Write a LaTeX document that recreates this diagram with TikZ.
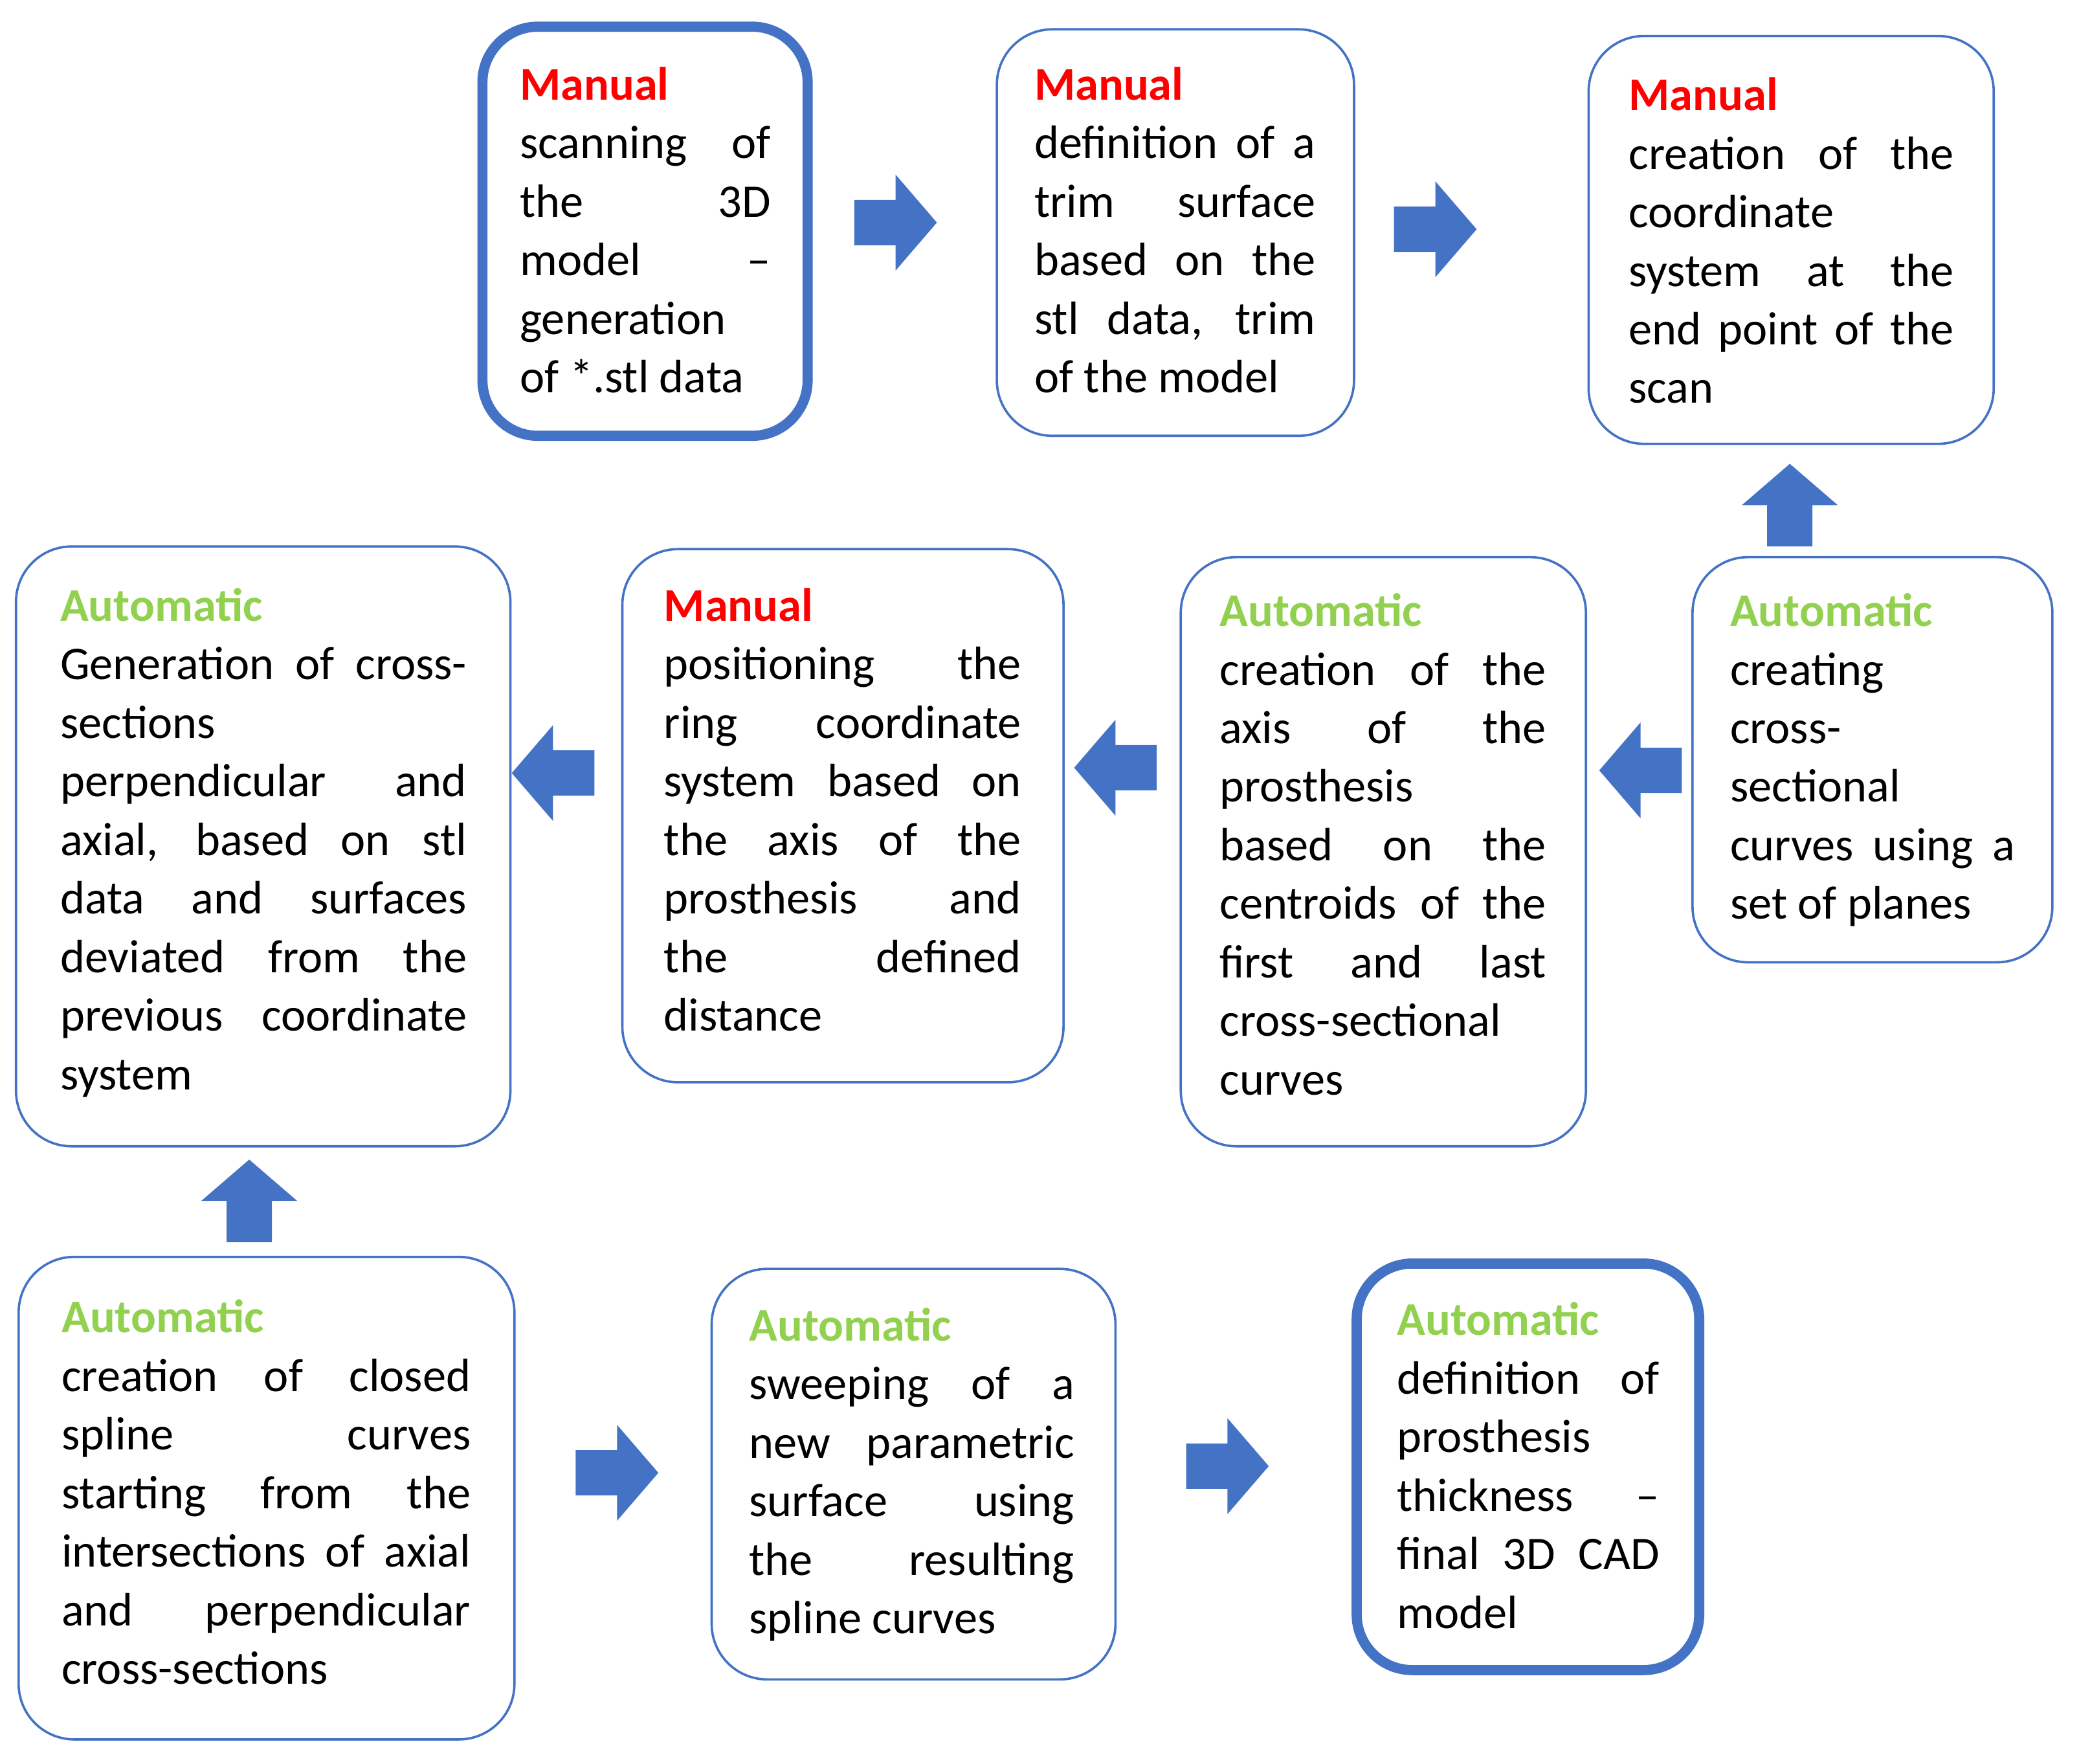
\documentclass[tikz,border=0pt]{standalone}
\usepackage{fontspec}
\setmainfont{Carlito}
\usetikzlibrary{calc}
\definecolor{bl}{HTML}{4472C4}
\definecolor{mred}{HTML}{FF0000}
\definecolor{agreen}{HTML}{92D050}
\newcommand\man{{\color{mred}\bfseries Manual}\newline}
\newcommand\aut{{\color{agreen}\bfseries Automatic}\newline}
\newcommand\blkarrow[2]{\fill[bl,shift={#1},rotate=#2] (-31,-17) -- (0,-17) -- (0,-36) -- (31,0) -- (0,36) -- (0,17) -- (-31,17) -- cycle;}
\tikzset{
 box/.style={draw=bl,line width=1.5pt,rounded corners=1.25cm,inner sep=0},
 thickbox/.style={box,line width=6.5pt},
 txt/.style={anchor=north west,inner sep=0,align=justify,font=\fontsize{30}{37.5}\selectfont}
}
\begin{document}
\begin{tikzpicture}[x=0.03cm,y=-0.03cm]
\useasboundingbox (0,0) rectangle (1560,1323);
% boxes
\newcommand\bx[6]{\node[#6,minimum width=#4*0.03cm,minimum height=#5*0.03cm] (#1) at (#2,#3) {};}
\bx{b1}{484}{173.5}{244}{307}{thickbox}
\bx{b2}{882}{174.5}{268}{305}{box}
\bx{b3}{1344}{180}{304}{306}{box}
\bx{b4}{1405}{570}{270}{304}{box}
\bx{b5}{1038}{639}{304}{442}{box}
\bx{b6}{632.5}{612}{331}{400}{box}
\bx{b7}{197.5}{635}{371}{450}{box}
\bx{b8}{200}{1124}{372}{362}{box}
\bx{b9}{685.5}{1106}{303}{308}{box}
\bx{b10}{1146.5}{1100.5}{257}{305}{thickbox}
% texts
\node[txt,text width=188*0.03cm] (t1) at (390,50) {\man scanning of\linebreak the 3D\linebreak model –\linebreak generation\newline of *.stl data};
\node[txt,text width=211*0.03cm] (t2) at (776,50) {\man definition of a\linebreak trim surface\linebreak based on the\linebreak stl data, trim\linebreak of the model};
\node[txt,text width=244*0.03cm] (t3) at (1222,58) {\man creation of the\linebreak coordinate\newline system at the\linebreak end point of the\linebreak scan};
\node[txt,text width=214*0.03cm] (t4) at (1298,445) {\aut \ creating\newline cross-\newline sectional\newline curves using a\linebreak set of planes};
\node[txt,text width=245*0.03cm] (t5) at (915,445) {\aut creation of the\linebreak axis of the\linebreak prosthesis\newline based on the\linebreak centroids of the\linebreak first and last\linebreak cross-sectional\newline curves};
\node[txt,text width=268*0.03cm] (t6) at (498,441) {\man positioning the\linebreak ring coordinate\linebreak system based on\linebreak the axis of the\linebreak prosthesis and\linebreak the defined\linebreak distance};
\node[txt,text width=305*0.03cm] (t7) at (45,441) {\aut Generation of cross-\linebreak sections\newline perpendicular and\linebreak axial, based on stl\linebreak data and surfaces\linebreak deviated from the\linebreak previous coordinate\linebreak system};
\node[txt,text width=307*0.03cm] (t8) at (46,975) {\aut creation of closed\linebreak spline curves\linebreak starting from the\linebreak intersections of axial\linebreak and perpendicular\linebreak cross-sections};
\node[txt,text width=244*0.03cm] (t9) at (562,981) {\aut sweeping of a\linebreak new parametric\linebreak surface using\linebreak the resulting\linebreak spline curves};
\node[txt,text width=197*0.03cm] (t10) at (1048,977) {\aut definition of\linebreak prosthesis\newline thickness –\linebreak final 3D CAD\linebreak model};
% arrows
\blkarrow{(672,167)}{0}
\blkarrow{(1077,172)}{0}
\blkarrow{(1343,379)}{90}
\blkarrow{(1231,578)}{180}
\blkarrow{(837,576)}{180}
\blkarrow{(415,580)}{180}
\blkarrow{(187,901)}{90}
\blkarrow{(463,1105)}{0}
\blkarrow{(921,1100)}{0}
\end{tikzpicture}
\end{document}
